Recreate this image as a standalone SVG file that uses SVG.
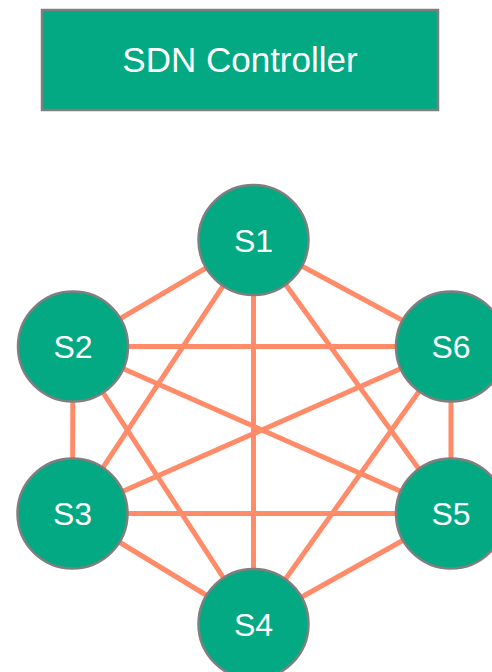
<svg xmlns="http://www.w3.org/2000/svg" width="492" height="672" viewBox="0 0 492 672">
<style>
.node{fill:#02A982;stroke:#7F7F7F;stroke-width:2.5}
.lbl{font-family:"Liberation Sans",Arial,sans-serif;fill:#fff;text-anchor:middle}
.edge{stroke:#FF8B69;stroke-width:5;fill:none}
</style>
<rect width="492" height="672" fill="#fff"/>
<g id="controller">
<rect class="node" x="42" y="10" width="396" height="100"/>
<text class="lbl" x="240" y="72" font-size="35">SDN Controller</text>
</g>
<g id="connectors">
<line class="edge" x1="253.5" y1="240" x2="73" y2="346.5"/>
<line class="edge" x1="253.5" y1="240" x2="72.5" y2="513.5"/>
<line class="edge" x1="253.5" y1="240" x2="253.5" y2="624"/>
<line class="edge" x1="253.5" y1="240" x2="451" y2="513.5"/>
<line class="edge" x1="253.5" y1="240" x2="451" y2="346.5"/>
<line class="edge" x1="73" y1="346.5" x2="451" y2="346.5"/>
<line class="edge" x1="73" y1="346.5" x2="72.5" y2="513.5"/>
<line class="edge" x1="73" y1="346.5" x2="451" y2="513.5"/>
<line class="edge" x1="73" y1="346.5" x2="253.5" y2="624"/>
<line class="edge" x1="72.5" y1="513.5" x2="451" y2="346.5"/>
<line class="edge" x1="72.5" y1="513.5" x2="451" y2="513.5"/>
<line class="edge" x1="72.5" y1="513.5" x2="253.5" y2="624"/>
<line class="edge" x1="253.5" y1="624" x2="451" y2="346.5"/>
<line class="edge" x1="253.5" y1="624" x2="451" y2="513.5"/>
<line class="edge" x1="451" y1="513.5" x2="451" y2="346.5"/>
</g>
<g id="S1"><circle class="node" cx="253.5" cy="240" r="55"/><text class="lbl" x="253.5" y="251.5" font-size="32">S1</text></g>
<g id="S2"><circle class="node" cx="73" cy="346.5" r="55"/><text class="lbl" x="73" y="358" font-size="32">S2</text></g>
<g id="S6"><circle class="node" cx="451" cy="346.5" r="55"/><text class="lbl" x="451" y="358" font-size="32">S6</text></g>
<g id="S3"><circle class="node" cx="72.5" cy="513.5" r="55"/><text class="lbl" x="72.5" y="525" font-size="32">S3</text></g>
<g id="S5"><circle class="node" cx="451" cy="513.5" r="55"/><text class="lbl" x="451" y="525" font-size="32">S5</text></g>
<g id="S4"><circle class="node" cx="253.5" cy="624" r="55"/><text class="lbl" x="253.5" y="635.5" font-size="32">S4</text></g>
</svg>
